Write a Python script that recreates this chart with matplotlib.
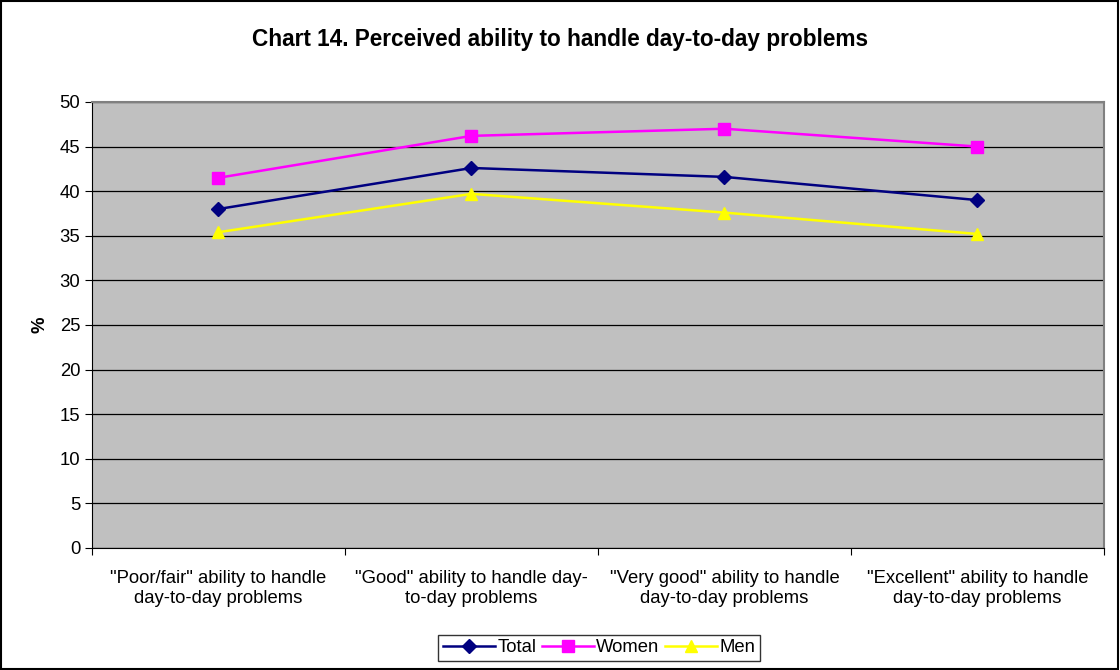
import matplotlib.pyplot as plt
from matplotlib.patches import Rectangle

plt.rcParams['font.family'] = ['Liberation Sans', 'DejaVu Sans']

categories = ['"Poor/fair" ability to handle\nday-to-day problems',
              '"Good" ability to handle day-\nto-day problems',
              '"Very good" ability to handle\nday-to-day problems',
              '"Excellent" ability to handle\nday-to-day problems']
total = [38.0, 42.6, 41.6, 39.0]
women = [41.5, 46.2, 47.0, 45.0]
men = [35.4, 39.7, 37.6, 35.2]

fig = plt.figure(figsize=(11.2, 6.7), dpi=100)
ax = fig.add_axes([0.0821, 0.1821, 0.9036, 0.6657])
ax.set_facecolor('#c0c0c0')

x = [i + 0.5 for i in range(len(categories))]
ax.plot(x, total, color='#000080', marker='D', markersize=7, lw=1.8, label='Total')
ax.plot(x, women, color='#ff00ff', marker='s', markersize=9, lw=1.8, label='Women')
ax.plot(x, men, color='#ffff00', marker='^', markersize=9, lw=1.8, label='Men')

ax.set_xlim(0, 4)
ax.set_ylim(0, 50)
ax.set_yticks(range(0, 51, 5))
ax.yaxis.grid(True, color='black', lw=0.9)
ax.set_axisbelow(True)

ax.set_xticks(range(5))
ax.set_xticklabels([])
ax.set_xticks(x, minor=True)
ax.set_xticklabels(categories, minor=True, fontsize=13.3, linespacing=1.2)
ax.tick_params(axis='x', which='minor', length=0, pad=16)
ax.tick_params(axis='x', which='major', length=5, direction='out')
ax.tick_params(axis='y', labelsize=13.3, length=5)

for s in ['top', 'right']:
    ax.spines[s].set_color('#808080')
    ax.spines[s].set_linewidth(1.5)
for s in ['left', 'bottom']:
    ax.spines[s].set_color('black')

ax.set_ylabel('%', fontsize=13.3, fontweight='bold', labelpad=8)
fig.suptitle('Chart 14. Perceived ability to handle day-to-day problems',
             fontsize=16.3, fontweight='bold', y=0.958)

leg = fig.legend(loc='center', bbox_to_anchor=(0.535, 0.033), ncol=3, fontsize=13.3,
                 frameon=True, fancybox=False, edgecolor='black', handlelength=2.8,
                 columnspacing=0.3, handletextpad=0.15, borderpad=0.25)
leg.get_frame().set_linewidth(1.0)

fig.patches.append(Rectangle((0.001, 0.002), 0.997, 0.996, transform=fig.transFigure,
                             fill=False, edgecolor='black', lw=1.5))

fig.savefig('out.png', dpi=100)
